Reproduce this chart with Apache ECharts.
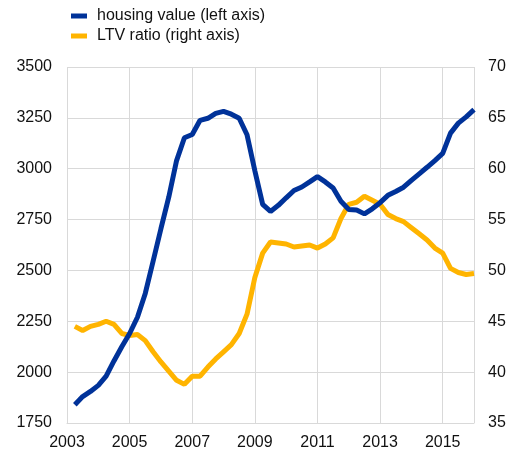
<!DOCTYPE html>
<html>
<head>
<meta charset="utf-8">
<script src="https://cdn.jsdelivr.net/npm/echarts@6/dist/echarts.min.js"></script>
<style>
  html, body { margin: 0; padding: 0; background: #fff; }
  #chart { width: 516px; height: 453px; }
</style>
</head>
<body>
<div id="chart"></div>
<script>
// quarterly observations, 2003Q2 - 2016Q1
const quarters = [
  "2003Q2", "2003Q3", "2003Q4",
  "2004Q1", "2004Q2", "2004Q3", "2004Q4",
  "2005Q1", "2005Q2", "2005Q3", "2005Q4",
  "2006Q1", "2006Q2", "2006Q3", "2006Q4",
  "2007Q1", "2007Q2", "2007Q3", "2007Q4",
  "2008Q1", "2008Q2", "2008Q3", "2008Q4",
  "2009Q1", "2009Q2", "2009Q3", "2009Q4",
  "2010Q1", "2010Q2", "2010Q3", "2010Q4",
  "2011Q1", "2011Q2", "2011Q3", "2011Q4",
  "2012Q1", "2012Q2", "2012Q3", "2012Q4",
  "2013Q1", "2013Q2", "2013Q3", "2013Q4",
  "2014Q1", "2014Q2", "2014Q3", "2014Q4",
  "2015Q1", "2015Q2", "2015Q3", "2015Q4",
  "2016Q1"
];

const housingValue = [
  1840, 1880, 1905,
  1935, 1980, 2055, 2125,
  2190, 2270, 2387, 2545,
  2705, 2860, 3040, 3152,
  3168, 3238, 3248, 3272,
  3282, 3268, 3248, 3167,
  2990, 2825, 2790, 2820,
  2857, 2893, 2910, 2935,
  2961, 2935, 2905, 2840,
  2800, 2797, 2778, 2803,
  2833, 2869, 2888, 2909,
  2943, 2975, 3007, 3040,
  3075, 3175, 3224, 3255,
  3290
];

const ltvRatio = [
  44.5, 44.1, 44.5,
  44.7, 45.0, 44.7, 43.8,
  43.6, 43.7, 43.1, 42.0,
  41.0, 40.1, 39.2, 38.8,
  39.6, 39.6, 40.5, 41.3,
  42.0, 42.7, 43.8, 45.7,
  49.3, 51.7, 52.8, 52.7,
  52.6, 52.3, 52.4, 52.5,
  52.2, 52.6, 53.2, 55.1,
  56.5, 56.7, 57.3, 56.9,
  56.5, 55.5, 55.1, 54.8,
  54.2, 53.6, 53.0, 52.2,
  51.7, 50.2, 49.8, 49.6,
  49.7
];

const seriesNames = ["housing value (left axis)", "LTV ratio (right axis)"];

// position of each quarter on the time axis (end of the previous quarter)
function quarterPos(q) {
  const y = Number(q.slice(0, 4));
  const n = Number(q.slice(5));
  return y + (n - 1) / 4;
}

const FONT = "Liberation Sans, Arial, sans-serif";
const TXT = "#111";
const GRID = "#d9d9d9";

const chart = echarts.init(document.getElementById("chart"), null, { renderer: "canvas" });

chart.setOption({
  animation: false,
  textStyle: { fontFamily: FONT },
  legend: {
    orient: "vertical",
    left: 71,
    top: 8,
    padding: 0,
    itemWidth: 16,
    itemHeight: 5,
    itemGap: 4,
    icon: "rect",
    data: seriesNames,
    textStyle: { fontSize: 16, color: TXT, fontFamily: FONT, lineHeight: 16, padding: [0, 0, 0, 5] }
  },
  grid: { left: 67, right: 42, top: 67, bottom: 30, containLabel: false },
  xAxis: {
    type: "value",
    min: 2003,
    max: 2016,
    interval: 2,
    axisLine: { show: true, lineStyle: { color: GRID, width: 1 } },
    axisTick: { show: false },
    splitLine: { show: true, lineStyle: { color: GRID, width: 1 } },
    axisLabel: {
      fontSize: 16,
      color: TXT,
      fontFamily: FONT,
      margin: 12,
      formatter: (v) => (v === 2016 ? "" : String(v))
    }
  },
  yAxis: [
    {
      type: "value",
      min: 1750,
      max: 3500,
      interval: 250,
      axisLine: { show: false },
      axisTick: { show: false },
      splitLine: { show: true, lineStyle: { color: GRID, width: 1 } },
      axisLabel: { fontSize: 16, color: TXT, fontFamily: FONT, margin: 15, formatter: (v) => String(v) }
    },
    {
      type: "value",
      min: 35,
      max: 70,
      interval: 5,
      position: "right",
      axisLine: { show: false },
      axisTick: { show: false },
      splitLine: { show: false },
      axisLabel: { fontSize: 16, color: TXT, fontFamily: FONT, margin: 14, formatter: (v) => String(v) }
    }
  ],
  series: [
    {
      name: seriesNames[0],
      type: "line",
      yAxisIndex: 0,
      showSymbol: false,
      symbol: "none",
      lineStyle: { color: "#003299", width: 5 },
      itemStyle: { color: "#003299" },
      data: quarters.map((q, i) => [quarterPos(q), housingValue[i]]),
      z: 3
    },
    {
      name: seriesNames[1],
      type: "line",
      yAxisIndex: 1,
      showSymbol: false,
      symbol: "none",
      lineStyle: { color: "#ffb400", width: 5 },
      itemStyle: { color: "#ffb400" },
      data: quarters.map((q, i) => [quarterPos(q), ltvRatio[i]]),
      z: 2
    }
  ]
});
</script>
</body>
</html>
